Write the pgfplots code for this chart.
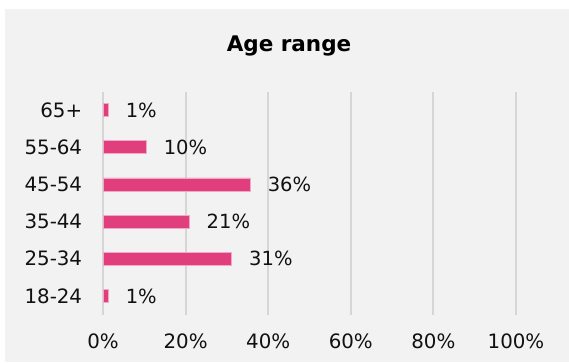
\documentclass[border=0pt]{standalone}
\usepackage{pgfplots}
\pgfplotsset{compat=1.18}
\usepackage{fontspec}
\setmainfont{DejaVu Sans}
\definecolor{bg}{HTML}{F2F2F2}
\definecolor{gridc}{HTML}{D6D6D6}
\definecolor{barc}{HTML}{E03E7C}
\definecolor{txt}{HTML}{111111}
\begin{document}
\begin{tikzpicture}[x=1bp,y=1bp]
\fill[white] (0,0) rectangle (569,362);
\fill[bg] (5,0) rectangle (569,353);
\node[anchor=base, inner sep=0pt, text=black, font=\fontsize{21.5bp}{24bp}\selectfont\bfseries] at (289,310.3) {Age range};
\begin{axis}[
  at={(103bp,47.5bp)}, anchor=south west,
  scale only axis, width=413bp, height=223bp,
  xbar, bar width=13bp,
  xmin=0, xmax=100, ymin=-0.5, ymax=5.5,
  xtick={0,20,40,60,80,100},
  xticklabels={0\%,20\%,40\%,60\%,80\%,100\%},
  ytick={0,1,2,3,4,5},
  yticklabels={18-24,25-34,35-44,45-54,55-64,65+},
  xmajorgrids, major grid style={draw=gridc, line width=1.9bp},
  axis line style={draw=none},
  major tick length=0pt,
  tick label style={text=txt, font=\fontsize{19.8bp}{22bp}\selectfont, inner sep=0pt},
  xticklabel style={anchor=center, yshift=-27.2bp},
  yticklabel style={anchor=east, xshift=-20.7bp},
  point meta=explicit symbolic,
  nodes near coords,
  nodes near coords style={anchor=west, inner sep=0pt, xshift=17.5bp, text=txt, font=\fontsize{19.5bp}{22bp}\selectfont},
  clip=false,
]
\addplot[fill=barc, draw=barc!45!white, line width=0.6bp] coordinates {
  (1.2,0) [1\%]
  (31.1,1) [31\%]
  (20.8,2) [21\%]
  (35.6,3) [36\%]
  (10.4,4) [10\%]
  (1.2,5) [1\%]
};
\end{axis}
\end{tikzpicture}
\end{document}
